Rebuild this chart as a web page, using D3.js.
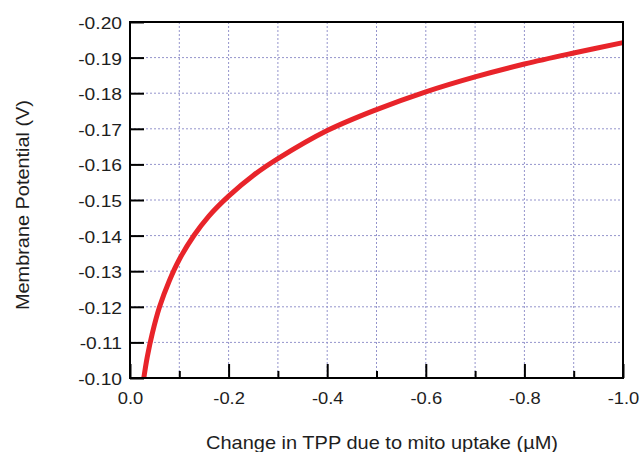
<!DOCTYPE html>
<html><head><meta charset="utf-8">
<script src="https://cdn.jsdelivr.net/npm/d3@7"></script>
<style>body{margin:0;background:#fff;} svg{display:block;}</style>
</head><body>
<svg id="c" width="643" height="452"></svg>
<script>
// Data
const tppChange = [-0.028,-0.035,-0.045,-0.060,-0.080,-0.100,-0.130,-0.160,-0.200,-0.250,-0.300,-0.400,-0.500,-0.600,-0.700,-0.800,-0.900,-1.000];
const potential = [-0.1000,-0.1059,-0.1124,-0.1200,-0.1274,-0.1333,-0.1401,-0.1455,-0.1511,-0.1569,-0.1616,-0.1695,-0.1754,-0.1804,-0.1846,-0.1882,-0.1913,-0.1942];
const xMajorTicks = [0,-0.2,-0.4,-0.6,-0.8,-1.0];
const xMinorTicks = [-0.1,-0.3,-0.5,-0.7,-0.9];
const yTicks = [-0.10,-0.11,-0.12,-0.13,-0.14,-0.15,-0.16,-0.17,-0.18,-0.19,-0.20];
const xTitle = "Change in TPP due to mito uptake (\u00B5M)";
const yTitle = "Membrane Potential (V)";

const svg = d3.select("#c");
const L=130, R=623, T=22, B=378;
const x = d3.scaleLinear().domain([0,-1]).range([L,R]);
const y = d3.scaleLinear().domain([-0.10,-0.20]).range([B,T]);
const font = "Arial, 'Liberation Sans', sans-serif";
const grid = "#9494cc";
const txt = "#1e1e1e";
const hyph = f => d => f(d).replace("\u2212","-");

function stretch(sel, k){
  sel.each(function(){ const w=this.getComputedTextLength(); d3.select(this).attr("textLength",w*k).attr("lengthAdjust","spacingAndGlyphs"); });
}

// gridlines
const g = svg.append("g");
g.selectAll("line.vx").data(xMajorTicks.concat(xMinorTicks).filter(d=>d!==0&&d!==-1))
 .join("line").attr("x1",d=>x(d)).attr("x2",d=>x(d)).attr("y1",T).attr("y2",B)
 .attr("stroke",grid).attr("stroke-width",1).attr("stroke-dasharray","2,2");
g.selectAll("line.hy").data(yTicks.filter(d=>d!==-0.10&&d!==-0.20))
 .join("line").attr("x1",L).attr("x2",R).attr("y1",d=>y(d)).attr("y2",d=>y(d))
 .attr("stroke",grid).attr("stroke-width",1).attr("stroke-dasharray","2,2");

// ticks
const yAxis = d3.axisLeft(y).tickValues(yTicks).tickSize(-14).tickPadding(8).tickFormat(hyph(d3.format(".2f")));
const ya = svg.append("g").attr("transform",`translate(${L},0)`).call(yAxis);
ya.select(".domain").remove();
ya.selectAll(".tick line").attr("stroke","#000").attr("stroke-width",2);
ya.selectAll(".tick text").attr("font-family",font).attr("font-size",17).attr("fill",txt).attr("dy","0.38em").call(stretch,1.13);

const xAxis = d3.axisBottom(x).tickValues(xMajorTicks).tickSize(-14).tickPadding(26).tickFormat(hyph(d3.format(".1f")));
const xa = svg.append("g").attr("transform",`translate(0,${B})`).call(xAxis);
xa.select(".domain").remove();
xa.selectAll(".tick line").attr("stroke","#000").attr("stroke-width",2);
xa.selectAll(".tick text").attr("font-family",font).attr("font-size",17).attr("fill",txt).attr("y",26).attr("dy","0").call(stretch,1.08);
const xm = d3.axisBottom(x).tickValues(xMinorTicks).tickSize(-7).tickFormat("");
const xma = svg.append("g").attr("transform",`translate(0,${B})`).call(xm);
xma.select(".domain").remove();
xma.selectAll(".tick line").attr("stroke","#000").attr("stroke-width",2);

// curve
const pts = tppChange.map((v,i)=>[v,potential[i]]);
svg.append("path").datum(pts)
 .attr("d", d3.line().x(d=>x(d[0])).y(d=>y(d[1])).curve(d3.curveCatmullRom.alpha(0.5)))
 .attr("fill","none").attr("stroke","#e8242a").attr("stroke-width",5);

// frame
svg.append("rect").attr("x",L).attr("y",T).attr("width",R-L).attr("height",B-T)
 .attr("fill","none").attr("stroke","#000").attr("stroke-width",2);

// titles
svg.append("text").attr("x",382).attr("y",449).attr("text-anchor","middle")
 .attr("font-family",font).attr("font-size",19).attr("fill",txt).text(xTitle)
 .attr("textLength",352).attr("lengthAdjust","spacingAndGlyphs");
svg.append("text").attr("transform",`translate(28.5,205) rotate(-90)`).attr("text-anchor","middle")
 .attr("font-family",font).attr("font-size",19).attr("fill",txt).text(yTitle)
 .attr("textLength",210).attr("lengthAdjust","spacingAndGlyphs");
</script>
</body></html>
